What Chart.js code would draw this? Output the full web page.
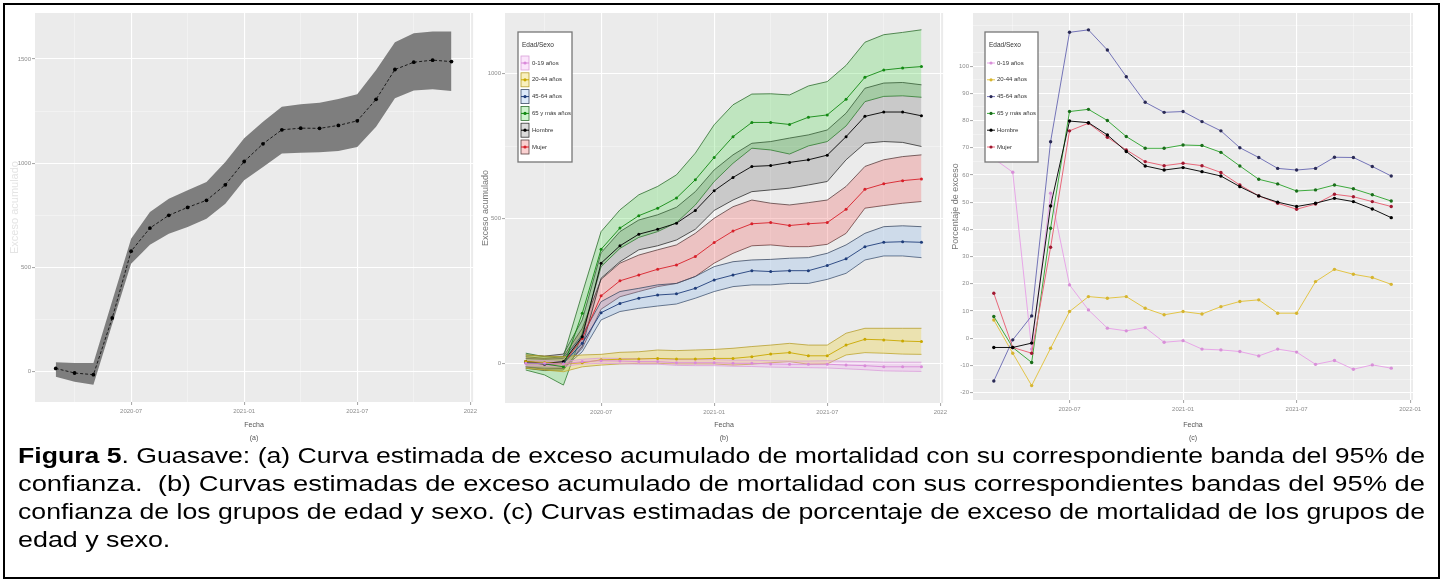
<!DOCTYPE html>
<html>
<head>
<meta charset="utf-8">
<script src="https://cdn.jsdelivr.net/npm/chart.js@4.4.1/dist/chart.umd.min.js"></script>
<style>
  body { margin: 0; background: #fff; width: 1443px; height: 582px; position: relative; overflow: hidden; font-family: "Liberation Sans", Arial, sans-serif; }
  #marco { position: absolute; left: 3px; top: 3px; width: 1433px; height: 572px; border: 2px solid #000; }
  canvas { position: absolute; top: 8px; }
  #pie { position: absolute; left: 18px; top: 442px; font-size: 22px; line-height: 28px; color: #000; }
  #pie .ln { display: block; white-space: nowrap; }
  #pie .ln span { display: inline-block; transform-origin: 0 0; }
</style>
</head>
<body>
<div id="marco"></div>
<canvas id="panelA" width="472" height="437" style="left:8px"></canvas>
<canvas id="panelB" width="470" height="437" style="left:480px"></canvas>
<canvas id="panelC" width="488" height="437" style="left:950px"></canvas>
<div id="pie">
  <div class="ln"><span><b>Figura 5</b>. Guasave: (a) Curva estimada de exceso acumulado de mortalidad con su correspondiente banda del 95% de</span></div>
  <div class="ln"><span>confianza.&nbsp; (b) Curvas estimadas de exceso acumulado de mortalidad con sus correspondientes bandas del 95% de</span></div>
  <div class="ln"><span>confianza de los grupos de edad y sexo. (c) Curvas estimadas de porcentaje de exceso de mortalidad de los grupos de</span></div>
  <div class="ln"><span>edad y sexo.</span></div>
</div>
<script>
// fechas (mensuales) y marcas del eje
const fechas = ['2020-03','2020-04','2020-05','2020-06','2020-07','2020-08','2020-09','2020-10','2020-11','2020-12',
                '2021-01','2021-02','2021-03','2021-04','2021-05','2021-06','2021-07','2021-08','2021-09','2021-10','2021-11','2021-12'];
const fechasEje = ['2020-07','2021-01','2021-07','2022-01'];
const fechasMenores = ['2020-04','2020-10','2021-04','2021-10'];

// (a) exceso acumulado total
const exceso    = [16,-6,-14,258,578,689,750,788,822,896,1008,1093,1160,1168,1167,1181,1203,1306,1449,1484,1494,1487];
const excesoSup = [45,42,42,341,638,766,830,870,910,1006,1119,1199,1271,1282,1290,1308,1330,1447,1580,1623,1631,1631];
const excesoInf = [-24,-48,-62,229,518,609,662,694,734,806,918,982,1046,1050,1052,1058,1078,1175,1311,1348,1354,1346];
const ticksA = [0, 500, 1000, 1500];
const menoresA = [250, 750, 1250];

// (b) exceso acumulado por grupo
const grupos = ['0-19 años','20-44 años','45-64 años','65 y más años','Hombre','Mujer'];
const est019 = [0,0,-2,6,9,8,6,6,2,2,2,0,0,-2,-3,-3,-3,-6,-8,-12,-12,-12];
const sup019 = [8,9,6,14,18,17,16,16,13,13,13,11,11,9,8,8,9,7,6,4,4,4];
const inf019 = [-8,-9,-11,-2,0,-1,-3,-3,-7,-8,-8,-10,-11,-13,-14,-15,-16,-19,-22,-26,-27,-28];
const est2044 = [6,3,-2,2,12,14,15,17,15,15,17,17,23,32,37,26,26,63,83,81,77,75];
const sup2044 = [29,25,23,29,31,38,40,46,44,46,48,52,58,63,69,63,63,104,121,121,121,121];
const inf2044 = [-17,-23,-29,-12,-6,-2,0,0,-2,-2,-2,-6,-3,2,6,-3,-2,29,37,35,32,31];
const est4564 = [2,-2,0,69,175,207,225,236,240,259,288,305,320,317,320,320,338,361,403,418,420,418];
const sup4564 = [17,14,17,98,213,248,259,271,276,300,334,351,357,359,363,365,380,409,449,472,475,472];
const inf4564 = [-12,-17,-17,40,150,179,190,198,205,225,248,265,271,271,276,276,290,311,357,371,371,365];
const est65 = [2,-2,-12,173,394,467,510,536,571,634,711,783,832,832,825,850,858,912,988,1013,1020,1025];
const sup65 = [35,23,23,242,455,530,582,611,651,726,824,893,930,931,927,958,973,1029,1109,1135,1143,1152];
const inf65 = [-23,-40,-75,104,334,397,435,455,486,547,628,691,743,737,723,751,766,820,904,922,924,919];
const estHombre = [6,0,6,92,346,406,446,463,484,528,596,642,680,683,694,703,719,783,853,868,868,855];
const supHombre = [29,25,32,150,382,455,495,513,539,593,668,720,760,766,778,789,806,864,950,968,970,962];
const infHombre = [-17,-25,-23,58,294,351,392,406,426,463,528,564,593,599,605,616,628,703,760,766,763,749];
const estMujer = [6,-3,0,86,233,285,305,325,340,369,417,457,482,486,476,482,486,532,601,620,631,637];
const supMujer = [23,17,23,121,290,346,374,392,409,449,501,541,564,553,547,555,564,611,680,703,714,720];
const infMujer = [-12,-21,-17,52,187,230,248,265,276,300,346,380,406,409,403,403,411,449,536,545,553,559];
const ticksB = [0, 500, 1000];
const menoresB = [250, 750];

// (c) porcentaje de exceso por grupo
const pct019 = [66,61,-4,53.3,19.6,10.4,3.7,2.7,3.9,-1.5,-0.9,-4.0,-4.3,-4.9,-6.5,-4.0,-5.1,-9.6,-8.2,-11.4,-9.8,-11.0];
const pct2044 = [6.7,-5.5,-17.4,-3.7,9.8,15.3,14.7,15.3,11.0,8.6,9.8,8.9,11.6,13.5,14.1,9.2,9.2,20.8,25.3,23.5,22.3,19.8];
const pct4564 = [-15.7,-0.6,8.2,72.2,112.4,113.3,105.9,96.1,86.7,83.0,83.3,79.6,76.2,70.0,66.4,62.4,61.8,62.4,66.5,66.4,63.1,59.6];
const pct65 = [8.0,-3.4,-8.9,40.4,83.3,84.1,80.0,74.1,69.8,69.8,71.0,70.8,68.3,63.3,58.4,56.7,54.1,54.5,56.3,54.9,52.7,50.4];
const pctHombre = [-3.4,-3.4,-1.8,48.6,79.8,79.2,74.7,68.6,63.3,61.8,62.7,61.2,59.6,55.7,52.3,50.0,48.4,49.6,51.4,50.2,47.5,44.3];
const pctMujer = [16.5,-3.4,-5.5,33.4,76.2,79.0,73.8,69.2,64.9,63.4,64.3,63.4,60.9,56.3,52.3,49.6,47.4,49.3,52.9,52.0,50.2,48.4];
const ticksC = [-20,-10,0,10,20,30,40,50,60,70,80,90,100];
const menoresC = [-15,-5,5,15,25,35,45,55,65,75,85,95,105,115];

// colores
const colLineaB = ['#d98ad9','#c9a800','#1f3d7a','#138a13','#000000','#d8202a'];
const colBandaB = ['rgba(240,150,240,0.25)','rgba(235,205,40,0.3)','rgba(120,170,230,0.25)','rgba(60,210,60,0.25)','rgba(0,0,0,0.14)','rgba(240,70,70,0.25)'];
const colBordeB = ['#d9a0d9','#b8a030','#3d4d66','#2f6f2f','#333333','#5a4040'];
const colLineaC = ['#e8a6e8','#e3c547','#7474b8','#3daa3d','#111111','#e8687a'];
const colPuntoC = ['#d890d8','#d6b530','#2a2a55','#1a6e1a','#000000','#a01830'];

function mes(f) {
  const [a, m] = f.split('-').map(Number);
  return (a - 2020) * 12 + m;
}
function puntos(vals) {
  return fechas.map((f, i) => ({ x: mes(f), y: vals[i] }));
}

const fondo = {
  id: 'fondo',
  beforeDraw(chart) {
    const { ctx, chartArea: a } = chart;
    ctx.save();
    ctx.fillStyle = '#ebebeb';
    ctx.fillRect(a.left, a.top, a.right - a.left, a.bottom - a.top);
    ctx.restore();
  }
};

function crearLeyenda(dx, dy, ancho, alto, conBanda, colLinea, colPunto, colBanda, colBorde) {
  return {
    id: 'leyenda',
    afterDatasetsDraw(chart) {
      const { ctx, chartArea } = chart;
      const x = chartArea.left + dx, y = chartArea.top + dy;
      ctx.save();
      ctx.fillStyle = '#fff';
      ctx.fillRect(x, y, ancho, alto);
      ctx.strokeStyle = '#777';
      ctx.lineWidth = 1.3;
      ctx.strokeRect(x, y, ancho, alto);
      ctx.textBaseline = 'middle';
      ctx.font = '6.5px "Liberation Sans"';
      ctx.fillStyle = '#333';
      ctx.fillText('Edad/Sexo', x + 4, y + 13);
      ctx.font = '6px "Liberation Sans"';
      grupos.forEach((g, i) => {
        const cy = y + 31 + i * 16.8;
        const kx = x + (conBanda ? 7 : 6);
        if (conBanda) {
          ctx.fillStyle = colBanda[i];
          ctx.fillRect(kx - 4, cy - 7, 8, 14);
          ctx.strokeStyle = colBorde[i];
          ctx.lineWidth = 0.8;
          ctx.strokeRect(kx - 4, cy - 7, 8, 14);
        }
        ctx.strokeStyle = colLinea[i];
        ctx.lineWidth = 1;
        ctx.beginPath(); ctx.moveTo(kx - 4, cy); ctx.lineTo(kx + 4, cy); ctx.stroke();
        ctx.fillStyle = colPunto[i];
        ctx.beginPath(); ctx.arc(kx, cy, 1.6, 0, Math.PI * 2); ctx.fill();
        ctx.fillStyle = '#333';
        ctx.fillText(g, x + (conBanda ? 14 : 12), cy);
      });
      ctx.restore();
    }
  };
}

function ejeX(ultima, alto, sub) {
  const mayores = fechasEje.map(mes);
  const menores = fechasMenores.map(mes);
  return {
    type: 'linear',
    min: mes(fechas[0]) - 1.1,
    max: mes(fechas[fechas.length - 1]) + 1.15,
    afterBuildTicks: s => { s.ticks = mayores.concat(menores).sort((p, q) => p - q).map(v => ({ value: v })); },
    afterFit: s => { s.height = alto; },
    border: { display: false },
    grid: {
      color: c => mayores.includes(c.tick.value) ? '#ffffff' : 'rgba(255,255,255,0.7)',
      lineWidth: c => mayores.includes(c.tick.value) ? 1.1 : 0.55,
      tickColor: c => mayores.includes(c.tick.value) ? '#aaaaaa' : 'rgba(0,0,0,0)',
      tickLength: 3
    },
    ticks: {
      autoSkip: false, maxRotation: 0, padding: 3, color: '#8c8c8c',
      font: { size: 6, family: '"Liberation Sans"' },
      callback: v => {
        const i = mayores.indexOf(v);
        if (i < 0) return '';
        return i === mayores.length - 1 ? ultima : fechasEje[i];
      }
    },
    title: {
      display: true, text: ['Fecha', sub], color: '#555',
      font: { size: 7, family: '"Liberation Sans"', lineHeight: '13px' },
      padding: { top: 0, bottom: 0.5 }
    }
  };
}

function ejeY(min, max, mayores, menores, ancho, titulo, colTitulo, tamTitulo) {
  return {
    type: 'linear', min: min, max: max,
    afterBuildTicks: s => { s.ticks = mayores.concat(menores).sort((p, q) => p - q).map(v => ({ value: v })); },
    afterFit: s => { s.width = ancho; },
    border: { display: false },
    grid: {
      color: c => mayores.includes(c.tick.value) ? '#ffffff' : 'rgba(255,255,255,0.7)',
      lineWidth: c => mayores.includes(c.tick.value) ? 1.1 : 0.55,
      tickColor: c => mayores.includes(c.tick.value) ? '#aaaaaa' : 'rgba(0,0,0,0)',
      tickLength: 3
    },
    ticks: {
      autoSkip: false, padding: 1, color: '#8c8c8c',
      font: { size: 6, family: '"Liberation Sans"' },
      callback: v => mayores.includes(v) ? String(v) : ''
    },
    title: {
      display: true, text: titulo, color: colTitulo,
      font: { size: tamTitulo, family: '"Liberation Sans"' },
      padding: { top: 0, bottom: 0 }
    }
  };
}

function opciones(ejeXcfg, ejeYcfg, relleno) {
  return {
    responsive: false, animation: false, devicePixelRatio: 1,
    layout: { padding: relleno },
    plugins: { legend: { display: false }, tooltip: { enabled: false } },
    scales: { x: ejeXcfg, y: ejeYcfg }
  };
}

// ---------- panel (a)
new Chart(document.getElementById('panelA'), {
  type: 'line',
  data: {
    datasets: [
      { data: puntos(exceso), borderColor: '#111', borderWidth: 0.9, borderDash: [3, 2],
        pointRadius: 1.9, pointBackgroundColor: '#000', pointBorderWidth: 0, fill: false },
      { data: puntos(excesoSup), borderColor: 'rgba(0,0,0,0)', pointRadius: 0, fill: '+1', backgroundColor: '#7e7e7e' },
      { data: puntos(excesoInf), borderColor: 'rgba(0,0,0,0)', pointRadius: 0, fill: false }
    ]
  },
  options: opciones(ejeX('2022', 43, '(a)'), ejeY(-145, 1720, ticksA, menoresA, 27, 'Exceso acumulado', '#e4e4e4', 11),
                    { left: 0, top: 5, right: 2, bottom: 0 }),
  plugins: [fondo]
});

// ---------- panel (b)
const estB = [est019, est2044, est4564, est65, estHombre, estMujer];
const supB = [sup019, sup2044, sup4564, sup65, supHombre, supMujer];
const infB = [inf019, inf2044, inf4564, inf65, infHombre, infMujer];
const dsB = [];
grupos.forEach((g, i) => {
  dsB.push({ label: g, data: puntos(estB[i]), borderColor: colLineaB[i], borderWidth: 0.9,
             pointRadius: 1.5, pointBackgroundColor: colLineaB[i], pointBorderWidth: 0, fill: false });
});
grupos.forEach((g, i) => {
  dsB.push({ data: puntos(supB[i]), borderColor: colBordeB[i], borderWidth: 0.8, pointRadius: 0,
             fill: '+1', backgroundColor: colBandaB[i] });
  dsB.push({ data: puntos(infB[i]), borderColor: colBordeB[i], borderWidth: 0.8, pointRadius: 0, fill: false });
});
new Chart(document.getElementById('panelB'), {
  type: 'line',
  data: { datasets: dsB },
  options: opciones(ejeX('2022', 42, '(b)'), ejeY(-137, 1210, ticksB, menoresB, 25, 'Exceso acumulado', '#777', 9),
                    { left: 0, top: 5, right: 2, bottom: 0 }),
  plugins: [fondo, crearLeyenda(13, 19, 54, 130, true, colLineaB, colLineaB, colBandaB, colBordeB)]
});

// ---------- panel (c)
const pctC = [pct019, pct2044, pct4564, pct65, pctHombre, pctMujer];
const dsC = [];
[4, 5, 3, 2, 1, 0].forEach(i => {
  dsC.push({ label: grupos[i], data: puntos(pctC[i]), borderColor: colLineaC[i], borderWidth: 1,
             pointRadius: 1.7, pointBackgroundColor: colPuntoC[i], pointBorderWidth: 0, fill: false });
});
new Chart(document.getElementById('panelC'), {
  type: 'line',
  data: { datasets: dsC },
  options: opciones(ejeX('2022-01', 45, '(c)'), ejeY(-22.7, 119.5, ticksC, menoresC, 23, 'Porcentaje de exceso', '#777', 9),
                    { left: 0, top: 5, right: 25, bottom: 0 }),
  plugins: [fondo, crearLeyenda(12, 19, 53, 130, false, colLineaC, colPuntoC, colBandaB, colBordeB)]
});

// pie de figura: cada renglón se estira al ancho del recuadro
const lineas = Array.from(document.querySelectorAll('#pie .ln span'));
const escalas = lineas.slice(0, 3).map(s => 1407 / s.getBoundingClientRect().width);
const media = escalas.reduce((p, q) => p + q, 0) / escalas.length;
lineas.forEach((s, i) => { s.style.transform = 'scaleX(' + (i < 3 ? escalas[i] : media) + ')'; });
</script>
</body>
</html>
